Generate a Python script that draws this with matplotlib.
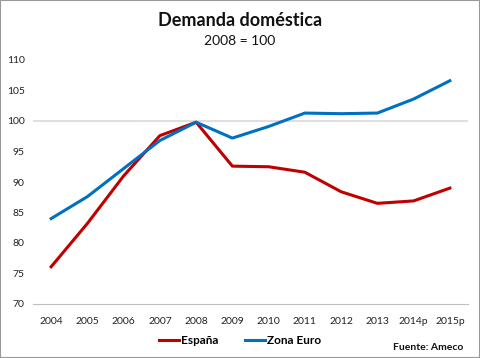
import numpy as np
import matplotlib.pyplot as plt
from matplotlib.patches import Rectangle

years = ['2004', '2005', '2006', '2007', '2008', '2009', '2010', '2011',
         '2012', '2013', '2014p', '2015p']
espana = [76.1, 83.2, 91.0, 97.6, 99.8, 92.6, 92.5, 91.6, 88.4, 86.5, 86.9, 89.0]
zona_euro = [84.0, 87.6, 92.2, 96.8, 99.8, 97.2, 99.1, 101.3, 101.2, 101.3, 103.6, 106.6]

plt.rcParams['font.family'] = ['Lato', 'DejaVu Sans']

fig = plt.figure(figsize=(4.8, 3.58), dpi=100)
ax = fig.add_axes([33 / 480, 1 - 304 / 358, 435 / 480, (304 - 60) / 358])

x = np.arange(len(years))
ax.axhline(100, color='#d9d9d9', lw=1.2, zorder=1)
ax.plot(x, espana, color='#c00000', lw=2.2, label='España', zorder=3)
ax.plot(x, zona_euro, color='#0070c0', lw=2.2, label='Zona Euro', zorder=3)

ax.set_xlim(-0.5, len(years) - 0.5)
ax.set_ylim(70, 110)
ax.set_yticks(range(70, 111, 5))
ax.set_xticks(x)
ax.set_xticklabels(years)
ax.tick_params(axis='both', length=0, labelsize=7.5, colors='#222222')
ax.tick_params(axis='y', pad=6)
ax.tick_params(axis='x', pad=9)
for s in ['top', 'right', 'left']:
    ax.spines[s].set_visible(False)
ax.spines['bottom'].set_color('#bfbfbf')

fig.text(0.5, 1 - 20 / 358, 'Demanda doméstica', ha='center', va='center',
         fontsize=13, fontweight='bold', color='#111111')
fig.text(0.5, 1 - 41 / 358, '2008 = 100', ha='center', va='center',
         fontsize=10, color='#111111')

fig.legend(loc='center', bbox_to_anchor=(0.5, 1 - 341 / 358), ncol=2,
           frameon=False, handlelength=1.7, handletextpad=0.2,
           columnspacing=2.2, prop={'weight': 'bold', 'size': 8.5})
fig.text(463 / 480, 1 - 348 / 358, 'Fuente: Ameco', ha='right', va='center',
         fontsize=7.5, fontweight='bold', color='#111111')

fig.patches.append(Rectangle((0, 0), 1, 1, transform=fig.transFigure,
                             fill=False, edgecolor='#999999', lw=1.5))

fig.savefig('out.png', dpi=100)
